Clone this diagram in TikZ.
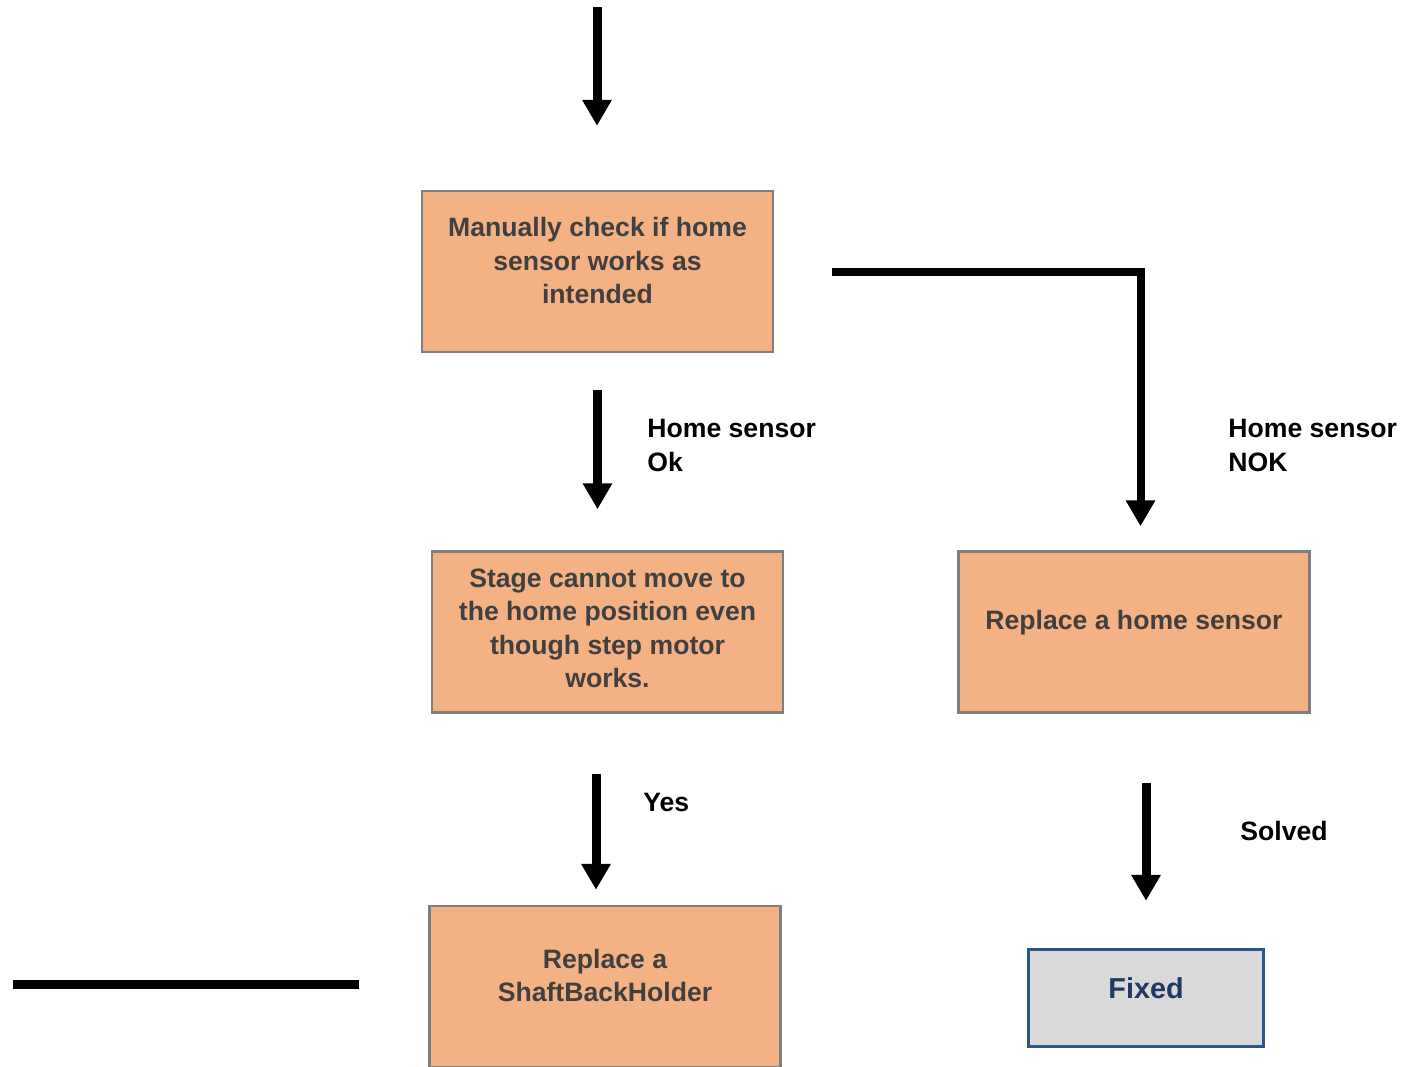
\documentclass[tikz,border=0pt]{standalone}
\usepackage{fontspec}
\setmainfont{Liberation Sans}
\usetikzlibrary{positioning, arrows.meta}
\definecolor{boxfill}{HTML}{F4B183}
\definecolor{boxline}{HTML}{7F7F7F}
\definecolor{boxtext}{HTML}{404040}
\definecolor{donefill}{HTML}{D9D9D9}
\definecolor{doneline}{HTML}{2B5788}
\definecolor{donetext}{HTML}{1F3864}

\begin{document}
\begin{tikzpicture}[x=0.5pt, y=-0.5pt]
\tikzset{
stepbox/.style={draw=boxline, line width=1.25pt, fill=boxfill, minimum width=175.5pt, minimum height=80.5pt, inner sep=0pt}, % orange step boxes
steptext/.style={align=center, text=boxtext, inner sep=0pt, font=\bfseries\fontsize{13.3}{16.75}\selectfont},
donebox/.style={draw=doneline, line width=1.5pt, fill=donefill, minimum width=117.5pt, minimum height=48.5pt, inner sep=0pt},
donetext/.style={text=donetext, inner sep=0pt, font=\bfseries\fontsize{14.4}{17}\selectfont},
cond/.style={align=left, anchor=west, inner sep=0pt, font=\bfseries\fontsize{13.3}{17}\selectfont}, % labels beside the arrows
flow/.style={line width=4.5pt, -{Triangle[width=14pt,length=13pt]}},
}
	\useasboundingbox (0,0) rectangle (1407,1066);

	\node[stepbox] (check) at (597.5,271.5) {};
	\node[stepbox, below=98.5pt of check, xshift=5pt] (stage) {};
	\node[stepbox, below=95.5pt of stage, xshift=-1.25pt] (shaft) {};
	\node[stepbox, right=86.5pt of stage] (sensor) {};
	\node[donebox, below=117pt of sensor, xshift=6pt] (fixed) {};

	\node[steptext] (checktext) at ([yshift=5.5pt]check.center) {Manually check if home\\sensor works as\\intended};
	\node[steptext] (stagetext) at ([yshift=1.75pt]stage.center) {Stage cannot move to\\the home position even\\though step motor\\works.};
	\node[steptext] (shafttext) at ([yshift=5.5pt]shaft.center) {Replace a\\ShaftBackHolder};
	\node[steptext] (sensortext) at ([yshift=4.75pt]sensor.center) {Replace a home sensor};
	\node[donetext] (fixedtext) at ([yshift=4.75pt]fixed.center) {Fixed};

	\node[cond] (okcond) at (647,445) {Home sensor\\Ok};
	\node[cond] (nokcond) at (1228,445) {Home sensor\\NOK};
	\node[cond] (yescond) at (643,802) {Yes};
	\node[cond] (solvedcond) at (1240,831) {Solved};

	\coordinate (start) at (597,7);
	\coordinate (stub) at (13,984);

	\draw[flow, shorten >=32pt] (start) -- (start |- check.north);
	\draw[flow, shorten <=18.5pt, shorten >=20.5pt] (check.south) -- (check.south |- stage.north);
	\draw[flow, shorten <=30pt, shorten >=7.5pt] ([xshift=-5.75pt]stage.south) -- ([xshift=-5.75pt]stage.south |- shaft.north);
	\draw[flow, line width=4pt, shorten <=29pt, shorten >=12pt] (check.east) -| ([xshift=3.25pt]sensor.north);
	\draw[flow, shorten <=34.5pt, shorten >=23.5pt] (fixed.north |- sensor.south) -- (fixed.north);
	\draw[line width=4.5pt, shorten >=34.5pt] (stub) -- (stub -| shaft.west);
\end{tikzpicture}
\end{document}
